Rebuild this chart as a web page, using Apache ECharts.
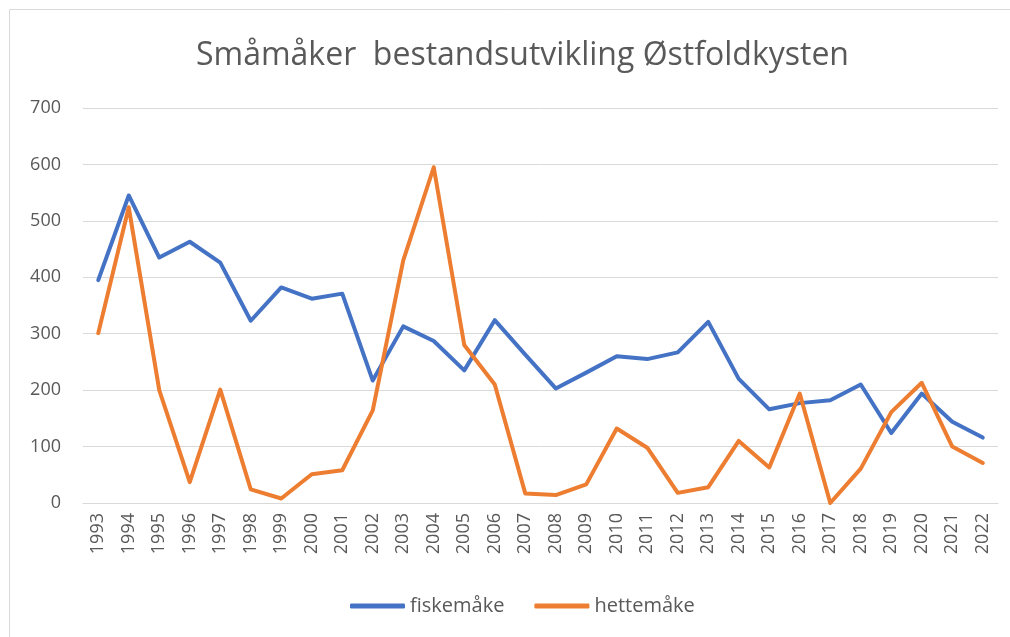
<!DOCTYPE html>
<html>
<head>
<meta charset="utf-8">
<script src="https://cdn.jsdelivr.net/npm/echarts@6/dist/echarts.min.js"></script>
<style>
html, body { margin: 0; padding: 0; background: #fff; }
#chart { width: 1010px; height: 637px; }
</style>
</head>
<body>
<div id="chart"></div>
<script>
// år
const years = ['1993','1994','1995','1996','1997','1998','1999','2000','2001','2002',
  '2003','2004','2005','2006','2007','2008','2009','2010','2011','2012',
  '2013','2014','2015','2016','2017','2018','2019','2020','2021','2022']
// fiskemåke
const fiskemake = [395, 545, 435, 463, 426, 323, 382, 362, 371, 217,
  313, 287, 235, 324, 263, 203, 231, 260, 255, 267,
  321, 220, 166, 177, 182, 210, 124, 194, 144, 116]
// hettemåke
const hettemake = [301, 524, 200, 37, 201, 24, 8, 51, 58, 164,
  430, 595, 280, 210, 17, 14, 33, 132, 98, 18,
  28, 110, 63, 194, 0, 61, 161, 213, 100, 71]

const myChart = echarts.init(document.getElementById('chart'))
const textColor = '#595959'
const option = {
  animation: false,
  title: {
    text: 'Småmåker  bestandsutvikling Østfoldkysten',
    left: 191,
    top: 35,
    textStyle: {
      fontFamily: 'Open Sans',
      fontSize: 32,
      fontWeight: 'normal',
      color: textColor
    }
  },
  graphic: [{
    type: 'rect',
    shape: { x: 9.5, y: 9.5, width: 1010, height: 640 },
    style: { fill: 'none', stroke: '#d9d9d9', lineWidth: 1 },
    silent: true
  }],
  legend: {
    data: ['fiskemåke', 'hettemåke'],
    bottom: 16,
    left: 345,
    icon: 'roundRect',
    itemWidth: 55,
    itemHeight: 5,
    itemGap: 30,
    textStyle: { fontFamily: 'Open Sans', fontSize: 20, color: textColor }
  },
  grid: {
    left: 83,
    right: 12,
    top: 108,
    bottom: 134
  },
  xAxis: {
    type: 'category',
    data: years,
    boundaryGap: true,
    axisLine: { lineStyle: { color: '#d9d9d9' } },
    axisTick: { show: false },
    axisLabel: {
      rotate: 90,
      interval: 0,
      margin: 10,
      fontFamily: 'Open Sans',
      fontSize: 18,
      color: textColor
    }
  },
  yAxis: {
    type: 'value',
    min: 0,
    max: 700,
    interval: 100,
    axisLine: { show: false },
    axisTick: { show: false },
    splitLine: { lineStyle: { color: '#d9d9d9', width: 1 } },
    axisLabel: {
      margin: 22,
      fontFamily: 'Open Sans',
      fontSize: 18,
      color: textColor
    }
  },
  series: [
    {
      name: 'fiskemåke',
      type: 'line',
      data: fiskemake,
      color: '#4472C4',
      symbol: 'none',
      lineStyle: { width: 4, join: 'round', cap: 'round' }
    },
    {
      name: 'hettemåke',
      type: 'line',
      data: hettemake,
      color: '#ED7D31',
      symbol: 'none',
      lineStyle: { width: 4, join: 'round', cap: 'round' }
    }
  ]
}
myChart.setOption(option)
window.addEventListener('resize', function () {
  myChart.resize()
})
</script>
</body>
</html>
